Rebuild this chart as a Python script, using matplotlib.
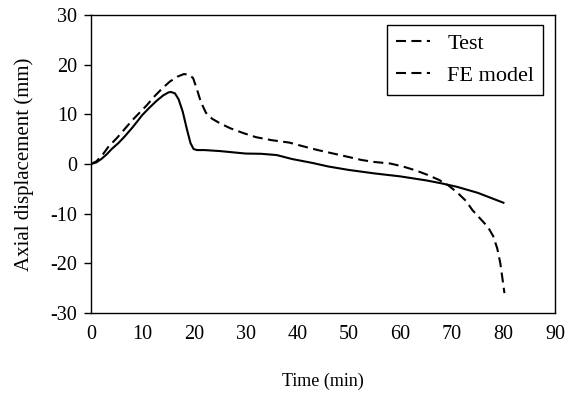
import matplotlib.pyplot as plt
from matplotlib.lines import Line2D

plt.rcParams['font.family'] = ['Liberation Serif', 'DejaVu Serif']
plt.rcParams['axes.unicode_minus'] = False

# Test curve (dashed)
test_time = [0, 1, 2, 3.4, 5, 6.5, 8, 9.3, 10.8, 12.2, 13.8, 15.3, 16.8, 18, 19, 19.8,
             20.5, 21.3, 22.3, 23.5, 25, 27, 29.6, 32, 35, 38.5, 41, 44, 47, 50, 52.5,
             55, 58, 60.5, 63, 65.3, 67.5, 69.3, 71, 72.7, 74, 75.5, 77, 78, 78.8, 79.4,
             79.8, 80.2]
test_disp = [0, 0.5, 1.5, 3.5, 5.2, 7.0, 8.8, 10.2, 11.8, 13.5, 15.2, 16.6, 17.6, 18.1,
             18.0, 17.3, 15.2, 12.5, 10.3, 9.1, 8.2, 7.2, 6.2, 5.4, 4.8, 4.3, 3.6, 2.8,
             2.1, 1.4, 0.8, 0.4, 0.1, -0.5, -1.3, -2.2, -3.2, -4.3, -5.7, -7.4, -9.3,
             -11.0, -12.7, -14.5, -17.0, -20.0, -23.0, -26.0]

# FE model curve (solid)
fe_time = [0, 1, 2, 3, 4, 5.3, 6.5, 8, 9, 9.9, 11.2, 12.7, 14, 15, 15.5, 16.3, 17, 17.8,
           18.6, 19.3, 19.9, 20.6, 22, 25, 28, 30, 33, 36, 39, 43, 46, 50, 55, 60, 65,
           68, 71, 75, 78, 80]
fe_disp = [0, 0.3, 1.0, 1.9, 3.0, 4.2, 5.5, 7.3, 8.6, 9.8, 11.2, 12.7, 13.8, 14.4, 14.5, 14.2,
           13.0, 10.5, 7.0, 4.2, 3.0, 2.8, 2.8, 2.6, 2.3, 2.1, 2.05, 1.8, 1.0, 0.2, -0.5,
           -1.2, -1.9, -2.5, -3.3, -3.9, -4.6, -5.8, -7.0, -7.8]

dash = (0, (4.8, 2.6))

fig = plt.figure(figsize=(5.76, 3.94), dpi=100)
ax = fig.add_axes([0.158, 0.2056, 0.8055, 0.7564])

ax.plot(test_time, test_disp, color='black', lw=1.5, linestyle=dash)
ax.plot(fe_time, fe_disp, color='black', lw=1.5)

ax.set_xlim(0, 90)
ax.set_ylim(-30, 30)
ax.set_xticks(range(0, 91, 10))
ax.set_yticks(range(-30, 31, 10))
ax.tick_params(axis='x', length=0, pad=9, labelsize=14.5)
ax.tick_params(axis='y', direction='out', length=5, width=1, labelsize=14.5, pad=5)
for s in ax.spines.values():
    s.set_linewidth(1)

ax.set_xlabel('Time (min)', fontsize=13, labelpad=20)
ax.set_ylabel('Axial displacement (mm)', fontsize=15, labelpad=12)

handles = [Line2D([], [], color='black', lw=1.5, linestyle=dash),
           Line2D([], [], color='black', lw=1.5, linestyle=dash)]
leg = ax.legend(handles, ['Test', 'FE model'], loc='upper right', fontsize=16,
                frameon=True, fancybox=False, edgecolor='black', framealpha=1,
                handlelength=1.5, handletextpad=0.8, borderpad=0.4, labelspacing=0.5,
                borderaxespad=0, bbox_to_anchor=(0.975, 0.967))
leg.get_frame().set_linewidth(1)

fig.savefig('out.png', dpi=100)
